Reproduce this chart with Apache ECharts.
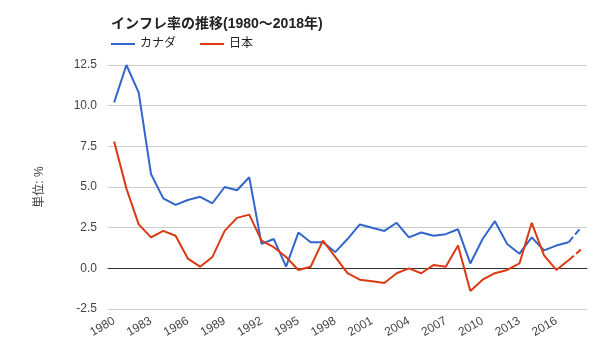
<!DOCTYPE html>
<html><head><meta charset="utf-8">
<script src="https://cdn.jsdelivr.net/npm/echarts@6/dist/echarts.min.js"></script>
<style>html,body{margin:0;padding:0;background:#fff}#c{width:600px;height:360px}</style>
</head><body><div id="c"></div>
<script>
const years = [];
for (let y = 1980; y <= 2018; y++) years.push(String(y));
const canada = [10.2,12.5,10.8,5.8,4.3,3.9,4.2,4.4,4.0,5.0,4.8,5.6,1.5,1.8,0.1,2.2,1.6,1.6,1.0,1.8,2.7,2.5,2.3,2.8,1.9,2.2,2.0,2.1,2.4,0.3,1.8,2.9,1.5,0.9,1.9,1.1,1.4,1.6,2.5];
const japan = [7.8,4.9,2.7,1.9,2.3,2.0,0.6,0.1,0.7,2.3,3.1,3.3,1.7,1.3,0.7,-0.1,0.1,1.7,0.7,-0.3,-0.7,-0.8,-0.9,-0.3,0.0,-0.3,0.2,0.1,1.4,-1.4,-0.7,-0.3,-0.1,0.3,2.8,0.8,-0.1,0.5,1.15];
const yTicks = {min:-2.5, max:12.5, interval:2.5};
const solidN = years.length - 1; // last segment is dashed (projection)
function solidPart(a){ return a.map((v,i)=> i < solidN ? v : null); }
function dashPart(a){ return a.map((v,i)=> i >= solidN-1 ? v : null); }
const font = "'Liberation Sans','Noto Sans CJK JP',sans-serif";
const chart = echarts.init(document.getElementById('c'));
const mk = (name, data, color, dashed) => ({
  name, type:'line', data, symbol:'none', connectNulls:false,
  lineStyle:{color, width:2, type: dashed ? [7,3] : 'solid'},
  itemStyle:{color}, animation:false
});
chart.setOption({
  textStyle:{fontFamily:font},
  title:{text:'インフレ率の推移(1980～2018年)', left:106, top:12,
    textStyle:{fontSize:14, fontWeight:'bold', color:'#222', fontFamily:font}},
  legend:{left:106, top:33, icon:'rect', itemWidth:24, itemHeight:2, itemGap:24,
    data:['カナダ','日本'], textStyle:{fontSize:12, color:'#222', fontFamily:font}},
  grid:{left:108, right:13, top:65, bottom:51},
  xAxis:{type:'category', data:years, boundaryGap:true,
    axisLine:{show:true, onZero:true, lineStyle:{color:'#333', width:1}},
    axisTick:{show:false},
    axisLabel:{interval:2, rotate:30, margin:11, fontSize:12, color:'#444', fontFamily:font},
    splitLine:{show:false}},
  yAxis:{type:'value', min:yTicks.min, max:yTicks.max, interval:yTicks.interval,
    name:'単位: %', nameLocation:'middle', nameGap:62, nameRotate:90,
    nameTextStyle:{fontSize:12, color:'#444', fontFamily:font},
    axisLine:{show:false}, axisTick:{show:false},
    axisLabel:{formatter:v=>v.toFixed(1), fontSize:12, color:'#444', margin:11, fontFamily:font},
    splitLine:{lineStyle:{color:'#ccc', width:1}}},
  series:[
    mk('カナダ', solidPart(canada), '#3366cc', false),
    mk('日本', solidPart(japan), '#dc3912', false),
    mk('カナダ', dashPart(canada), '#3366cc', true),
    mk('日本', dashPart(japan), '#dc3912', true)
  ]
});
</script></body></html>
